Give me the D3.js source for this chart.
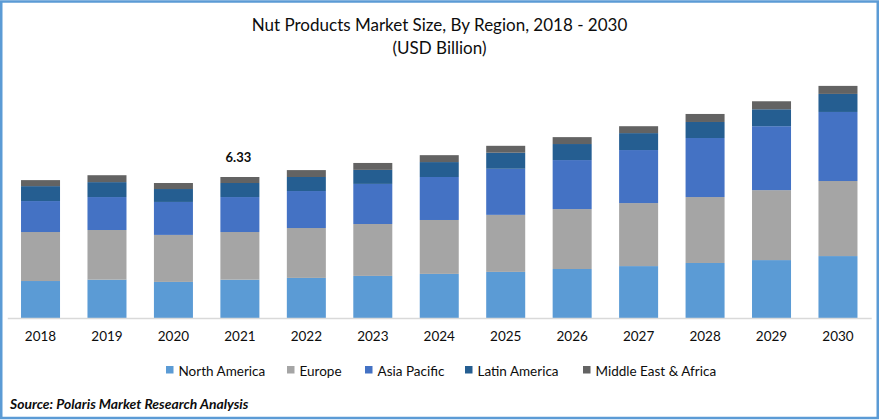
<!DOCTYPE html>
<html>
<head>
<meta charset="utf-8">
<script src="https://cdnjs.cloudflare.com/ajax/libs/d3/7.8.5/d3.min.js"></script>
<style>
html,body{margin:0;padding:0;background:#fff;overflow:hidden}
text{font-family:Lato,"Open Sans",sans-serif;fill:#0d0d0d}
</style>
</head>
<body>
<svg id="c" width="879" height="420"></svg>
<script>
const years = ["2018","2019","2020","2021","2022","2023","2024","2025","2026","2027","2028","2029","2030"];
const regions = ["North America","Europe","Asia Pacific","Latin America","Middle East & Africa"];
const colors = ["#5B9BD5","#A5A5A5","#4472C4","#255E91","#636363"];
const northAmerica = [1.66,1.72,1.62,1.72,1.80,1.89,1.98,2.07,2.20,2.33,2.47,2.60,2.78];
const europe       = [2.20,2.23,2.11,2.14,2.24,2.33,2.42,2.56,2.69,2.83,2.96,3.14,3.37];
const asiaPacific  = [1.39,1.48,1.48,1.57,1.66,1.80,1.93,2.07,2.20,2.38,2.65,2.87,3.10];
const latinAmerica = [0.67,0.67,0.58,0.63,0.63,0.63,0.67,0.72,0.72,0.76,0.72,0.76,0.81];
const middleEast   = [0.27,0.31,0.27,0.27,0.31,0.31,0.31,0.31,0.31,0.31,0.36,0.36,0.36];
const seriesValues = [northAmerica,europe,asiaPacific,latinAmerica,middleEast];
const annotationYear = "2021";
const annotationLabel = "6.33";
const titleLines = ["Nut Products Market Size, By Region, 2018 - 2030","(USD Billion)"];
const sourceText = "Source: Polaris  Market Research Analysis";

const W = 879, H = 420, baseY = 318;
const svg = d3.select("#c");

const table = years.map((y,i)=>{
  const r = {year:y};
  regions.forEach((n,k)=>r[n]=seriesValues[k][i]);
  return r;
});
const stacked = d3.stack().keys(regions)(table);

const x = d3.scaleBand().domain(years).range([7.3,871.2]).paddingInner(0.413).paddingOuter(0.2065);
const y = d3.scaleLinear().domain([0,10]).range([baseY,baseY-222.75]);

// frame
svg.append("rect").attr("x",1.25).attr("y",1.5).attr("width",W-2.5).attr("height",H-3.5)
  .attr("fill","#fff").attr("stroke","#5B9BD5").attr("stroke-width",2.5);

// title
svg.append("g").selectAll("text").data(titleLines).join("text")
  .attr("x",439.5).attr("y",(d,i)=>31+i*23).attr("text-anchor","middle")
  .style("font-size","17px").text(d=>d);

// bars
svg.append("g").selectAll("g").data(stacked).join("g")
  .attr("fill",(d,i)=>colors[i])
  .selectAll("rect").data(d=>d).join("rect")
  .attr("x",d=>x(d.data.year)).attr("width",x.bandwidth())
  .attr("y",d=>y(d[1])).attr("height",d=>y(d[0])-y(d[1]));

// axis
const ax = svg.append("g").attr("transform",`translate(0,${baseY})`)
  .call(d3.axisBottom(x).tickSize(0).tickPadding(13));
ax.select(".domain").attr("stroke","#D9D9D9").attr("stroke-width",1.3);
ax.selectAll("text").style("font-size","13.5px").style("font-family",'Lato,"Open Sans",sans-serif').attr("fill","#0d0d0d");

// annotation
const top2021 = d3.sum(seriesValues,s=>s[years.indexOf(annotationYear)]);
svg.append("text").attr("x",x(annotationYear)+x.bandwidth()/2-1.5).attr("y",y(top2021)-15)
  .attr("text-anchor","middle").style("font-size","13px").style("font-weight","700").text(annotationLabel);

// legend
const legendX = [166,287,365,465,583];
const lg = svg.append("g").selectAll("g").data(regions).join("g")
  .attr("transform",(d,i)=>`translate(${legendX[i]},366)`);
lg.append("rect").attr("width",7.5).attr("height",7.5).attr("fill",(d,i)=>colors[i]);
lg.append("text").attr("x",12.5).attr("y",9.5).style("font-size","13.5px").text(d=>d);

// source
svg.append("text").attr("x",10).attr("y",409).style("font-size","13.9px").style("font-weight","700")
  .style("font-style","italic").text(sourceText);
</script>
</body>
</html>
